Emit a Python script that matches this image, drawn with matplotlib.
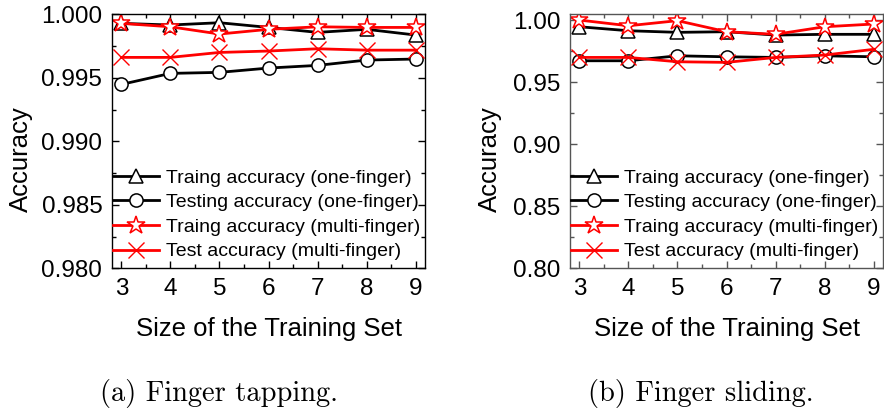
import matplotlib
matplotlib.use("Agg")
import matplotlib.pyplot as plt
from matplotlib.ticker import MultipleLocator, FormatStrFormatter

plt.rcParams['font.family'] = ['Liberation Sans', 'DejaVu Sans']

sizes = [3, 4, 5, 6, 7, 8, 9]

# (a) finger tapping
tap_train_one = [0.99929, 0.99916, 0.99934, 0.99897, 0.99858, 0.99882, 0.99837]
tap_test_one = [0.99448, 0.99535, 0.99543, 0.99577, 0.99598, 0.99640, 0.99648]
tap_train_multi = [0.99929, 0.99902, 0.99845, 0.99882, 0.99902, 0.99897, 0.99897]
tap_test_multi = [0.99661, 0.99661, 0.99700, 0.99711, 0.99729, 0.99718, 0.99718]

# (b) finger sliding
slide_train_one = [0.9946, 0.9914, 0.9901, 0.9906, 0.9879, 0.9885, 0.9885]
slide_test_one = [0.9672, 0.9672, 0.9712, 0.9704, 0.9699, 0.9712, 0.9704]
slide_train_multi = [1.0000, 0.9954, 0.9995, 0.9906, 0.9885, 0.9946, 0.9968]
slide_test_multi = [0.9699, 0.9699, 0.9664, 0.9659, 0.9699, 0.9718, 0.9764]

labels = ["Traing accuracy (one-finger)",
          "Testing accuracy (one-finger)",
          "Traing accuracy (multi-finger)",
          "Test accuracy (multi-finger)"]


def draw_panel(ax, series, ylim, ystep, yfmt, spine_color):
    styles = [
        dict(color='black', marker='^', markersize=10, mfc='white', mec='black', mew=1.1),
        dict(color='black', marker='o', markersize=9.5, mfc='white', mec='black', mew=1.1),
        dict(color='red', marker='*', markersize=13.5, mfc='white', mec='red', mew=1.1),
        dict(color='red', marker='x', markersize=11, mec='red', mew=1.0),
    ]
    for vals, lab, st in zip(series, labels, styles):
        ax.plot(sizes, vals, lw=2, label=lab, **st)

    ax.set_xlim(2.81, 9.19)
    ax.set_ylim(*ylim)
    ax.xaxis.set_major_locator(MultipleLocator(1))
    ax.xaxis.set_minor_locator(MultipleLocator(0.5))
    ax.yaxis.set_major_locator(MultipleLocator(ystep))
    ax.yaxis.set_minor_locator(MultipleLocator(ystep / 2))
    ax.yaxis.set_major_formatter(FormatStrFormatter(yfmt))
    ax.tick_params(which='both', direction='in', top=True, right=True,
                   labelsize=17.5, colors=spine_color, labelcolor='black')
    ax.tick_params(which='major', length=5, width=1, pad=7)
    ax.tick_params(which='minor', length=3, width=1)
    for sp in ax.spines.values():
        sp.set_color(spine_color)
        sp.set_linewidth(1)

    ax.set_xlabel("Size of the Training Set", fontsize=18.5)
    ax.set_ylabel("Accuracy", fontsize=18.5)
    ax.xaxis.set_label_coords(0.5, -0.19)

    ax.legend(loc='lower left', bbox_to_anchor=(-0.013, 0.012), frameon=False,
              fontsize=14, handlelength=2.4, handletextpad=0.35,
              borderaxespad=0.0, borderpad=0.25, labelspacing=0.36)


fig = plt.figure(figsize=(8.84, 4.17), dpi=100)
ax1 = fig.add_axes([112 / 884, 0.3566, 313 / 884, 0.609])
ax2 = fig.add_axes([570 / 884, 0.3566, 313 / 884, 0.609])

draw_panel(ax1, [tap_train_one, tap_test_one, tap_train_multi, tap_test_multi],
           (0.980, 1.000), 0.005, '%.3f', 'black')
draw_panel(ax2, [slide_train_one, slide_test_one, slide_train_multi, slide_test_multi],
           (0.80, 1.0046), 0.05, '%.2f', '#555555')

ax1.yaxis.set_label_coords(-0.252, 0.43)
ax2.yaxis.set_label_coords(-0.217, 0.43)

fig.text(0.2477, 0.056, "(a) Finger tapping.", family='cmr10', fontsize=20.5,
         ha='center', va='center')
fig.text(0.793, 0.056, "(b) Finger sliding.", family='cmr10', fontsize=20.5,
         ha='center', va='center')

fig.savefig("out.png", dpi=100)
